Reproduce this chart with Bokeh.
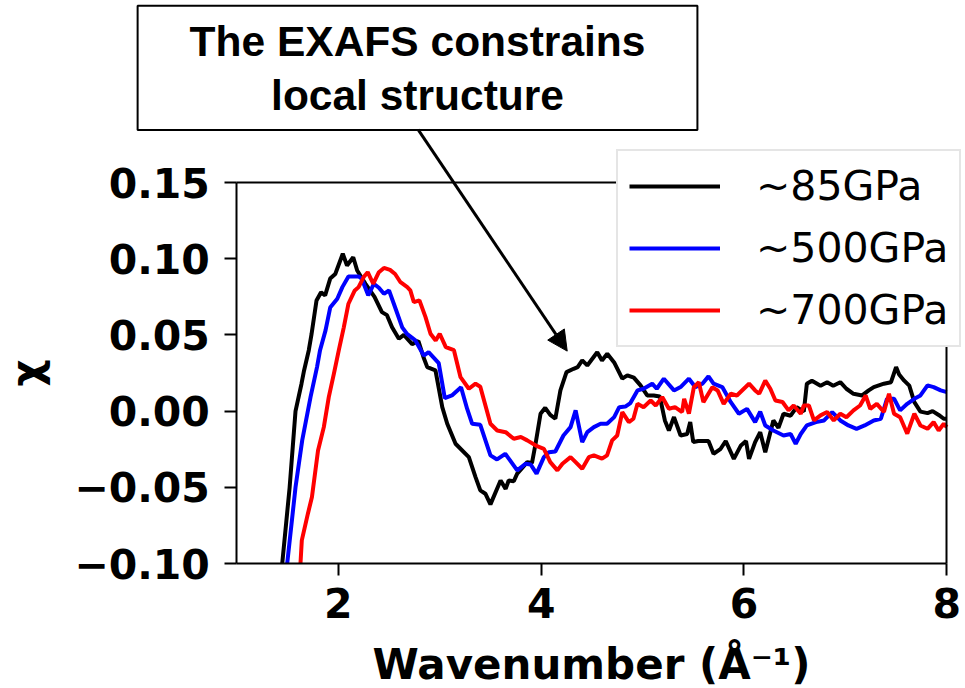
from bokeh.plotting import figure
from bokeh.models import (Legend, LegendItem, Label, Arrow, NormalHead, LinearAxis,
                          FixedTicker, CustomJSTickFormatter, Range1d)
from bokeh.embed import file_html
from bokeh.resources import INLINE

# EXAFS oscillations chi(k) at three pressures (each trace starts where it
# rises through the bottom of the axes)
k_85 = [1.447, 1.52, 1.578, 1.637, 1.66, 1.709, 1.736, 1.785, 1.83, 1.87, 1.92, 1.97,
        2.044, 2.086, 2.147, 2.186, 2.268, 2.357, 2.43, 2.48, 2.53, 2.597, 2.646, 2.728, 2.79,
        2.84, 2.877, 2.958, 3.025, 3.074, 3.156, 3.287, 3.353, 3.40, 3.45, 3.50, 3.60, 3.65,
        3.68, 3.73, 3.764, 3.863, 3.91, 3.945, 3.994, 4.04, 4.09, 4.14, 4.19, 4.25, 4.32, 4.36,
        4.405, 4.455, 4.553, 4.60, 4.652, 4.72, 4.80, 4.85, 4.914, 4.98, 5.046, 5.11, 5.17,
        5.22, 5.26, 5.31, 5.375, 5.44, 5.47, 5.50, 5.55, 5.65, 5.70, 5.77, 5.82, 5.90, 5.97,
        6.02, 6.05, 6.11, 6.16, 6.21, 6.29, 6.34, 6.39, 6.46, 6.52, 6.59, 6.62, 6.67, 6.755,
        6.82, 6.88, 6.95, 7.01, 7.08, 7.165, 7.23, 7.28, 7.38, 7.45, 7.50, 7.53, 7.58, 7.63,
        7.68, 7.74, 7.81, 7.86, 7.92, 7.97, 8.0]
chi_85 = [-0.100, -0.050, 0.000, 0.018, 0.026, 0.040, 0.0505, 0.0726, 0.078, 0.076,
          0.087, 0.090, 0.1033, 0.0956, 0.101, 0.0923, 0.0836, 0.075, 0.065, 0.063, 0.055,
          0.0475, 0.050, 0.044, 0.046, 0.0354, 0.0289, 0.0267, 0.0026, -0.0083, -0.0214,
          -0.0302, -0.0433, -0.052, -0.0542, -0.0612, -0.0455, -0.051, -0.0455, -0.046,
          -0.041, -0.0335, -0.034, -0.0214, -0.0017, 0.0022, -0.0025, -0.005, 0.0136, 0.0256,
          0.0278, 0.0289, 0.0333, 0.030, 0.0387, 0.0333, 0.0377, 0.032, 0.0213, 0.0235, 0.022,
          0.0169, 0.0103, 0.0103, 0.0096, -0.0061, -0.0127, -0.0039, -0.016, -0.015, -0.0072,
          -0.0203, -0.0196, -0.0196, -0.028, -0.0247, -0.0196, -0.0313, -0.0225, -0.0196,
          -0.0313, -0.0203, -0.0138, -0.027, -0.0061, -0.011, -0.0017, -0.003, 0.0026,
          -0.0003, 0.018, 0.020, 0.0167, 0.019, 0.0167, 0.019, 0.0147, 0.0114, 0.0103, 0.0136,
          0.0158, 0.018, 0.019, 0.0289, 0.024, 0.020, 0.0167, 0.0059, -0.0003, -0.0013, 0.0,
          -0.0025, -0.005, -0.005]

k_500 = [1.496, 1.578, 1.644, 1.726, 1.79, 1.82, 1.874, 1.92, 1.99, 2.04, 2.10, 2.20,
         2.23, 2.295, 2.35, 2.40, 2.45, 2.50, 2.565, 2.63, 2.68, 2.76, 2.843, 2.89, 2.99, 3.05,
         3.12, 3.21, 3.27, 3.32, 3.40, 3.50, 3.565, 3.646, 3.69, 3.764, 3.846, 3.896, 3.955,
         4.027, 4.076, 4.14, 4.22, 4.29, 4.34, 4.405, 4.455, 4.52, 4.586, 4.65, 4.72, 4.77,
         4.83, 4.88, 4.95, 5.01, 5.095, 5.14, 5.21, 5.31, 5.375, 5.457, 5.52, 5.59, 5.65, 5.70,
         5.786, 5.87, 5.95, 6.03, 6.11, 6.16, 6.21, 6.29, 6.39, 6.46, 6.51, 6.56, 6.62, 6.71,
         6.79, 6.87, 6.95, 7.03, 7.11, 7.19, 7.28, 7.35, 7.41, 7.48, 7.54, 7.61, 7.68, 7.74,
         7.81, 7.87, 7.94, 8.0]
chi_500 = [-0.100, -0.050, -0.0192, 0.0092, 0.0289, 0.040, 0.053, 0.068, 0.0738,
           0.0814, 0.0884, 0.0884, 0.087, 0.076, 0.0836, 0.081, 0.077, 0.0793, 0.0672, 0.055,
           0.0505, 0.0464, 0.0365, 0.0387, 0.0315, 0.0085, 0.0103, 0.0157, 0.0016, -0.0083,
           -0.009, -0.029, -0.0317, -0.028, -0.032, -0.0389, -0.0345, -0.035, -0.041, -0.0302,
           -0.027, -0.0265, -0.016, -0.0105, 0.0005, -0.0203, -0.0138, -0.0105, -0.0083,
           -0.0083, -0.0039, 0.0026, 0.003, 0.0053, 0.0136, 0.0147, 0.018, 0.0147, 0.0213,
           0.0136, 0.0158, 0.0213, 0.0158, 0.018, 0.0228, 0.018, 0.0158, 0.0059, -0.0017,
           0.0015, -0.0072, -0.0003, -0.0094, -0.0127, -0.016, -0.015, -0.0214, -0.015,
           -0.0094, -0.0072, -0.0061, -0.0006, -0.0061, -0.0094, -0.0116, -0.0094, -0.0061,
           -0.005, 0.0081, 0.0081, 0.0005, 0.0048, 0.0081, 0.0103, 0.0169, 0.0158, 0.0136,
           0.0125]

k_700 = [1.627, 1.64, 1.70, 1.74, 1.80, 1.857, 1.906, 1.956, 2.005, 2.054, 2.10, 2.16,
         2.20, 2.25, 2.29, 2.344, 2.40, 2.45, 2.51, 2.56, 2.613, 2.68, 2.71, 2.745, 2.80, 2.86,
         2.909, 2.96, 3.00, 3.06, 3.14, 3.205, 3.287, 3.353, 3.40, 3.50, 3.567, 3.65, 3.73,
         3.80, 3.863, 3.96, 4.027, 4.09, 4.16, 4.21, 4.29, 4.34, 4.405, 4.47, 4.52, 4.60, 4.65,
         4.70, 4.75, 4.80, 4.865, 4.91, 4.95, 5.01, 5.08, 5.13, 5.194, 5.26, 5.32, 5.39, 5.41,
         5.457, 5.506, 5.555, 5.60, 5.688, 5.74, 5.80, 5.87, 5.93, 6.05, 6.11, 6.15, 6.21,
         6.26, 6.31, 6.38, 6.44, 6.49, 6.56, 6.59, 6.64, 6.69, 6.755, 6.82, 6.885, 6.95, 7.01,
         7.08, 7.145, 7.20, 7.245, 7.31, 7.38, 7.43, 7.48, 7.54, 7.61, 7.68, 7.74, 7.81, 7.87,
         7.92, 7.97, 8.0]
chi_700 = [-0.100, -0.0848, -0.0673, -0.0564, -0.0258, -0.0105, 0.0092, 0.0245, 0.040,
           0.055, 0.0705, 0.079, 0.0814, 0.088, 0.0912, 0.0836, 0.0912, 0.094, 0.0927, 0.090,
           0.0846, 0.0814, 0.0793, 0.0715, 0.0727, 0.0617, 0.0508, 0.0464, 0.0508, 0.042,
           0.040, 0.0223, 0.0147, 0.018, 0.016, -0.0083, -0.0127, -0.0138, -0.0181, -0.017,
           -0.0192, -0.023, -0.0247, -0.0335, -0.0389, -0.0345, -0.0302, -0.0335, -0.0378,
           -0.0302, -0.029, -0.0312, -0.029, -0.0192, -0.016, -0.0006, -0.0072, -0.005, 0.0048,
           0.0026, 0.007, 0.0037, 0.0092, 0.0016, 0.0026, -0.0006, 0.0081, -0.0017, 0.0157,
           0.019, 0.0059, 0.0157, 0.0136, 0.0048, 0.0114, 0.0103, 0.018, 0.0136, 0.0114, 0.020,
           0.0147, 0.007, 0.006, 0.0005, 0.0037, -0.0017, 0.0037, 0.0037, -0.0061, -0.0028,
           -0.0006, -0.0061, -0.0017, -0.004, 0.0005, 0.0037, 0.0103, 0.0015, 0.0048, -0.0006,
           0.0114, -0.0017, -0.004, -0.0148, -0.0017, -0.0094, -0.0116, -0.0072, -0.0127,
           -0.0083, -0.0105]

series_labels = ["~85GPa", "~500GPa", "~700GPa"]
series_colors = ["black", "blue", "red"]
x_ticks = [2, 4, 6, 8]
y_ticks = [-0.10, -0.05, 0.00, 0.05, 0.10, 0.15]
x_lo, x_hi = 1, 8
y_lo, y_hi = -0.10, 0.15

# The drawing frame covers the whole canvas, so that the callout box, its
# arrow and the legend can sit outside the axes box; the axes box itself is
# drawn with axes pinned to its data limits.
W, H = 965, 688
box_left_px, box_right_px, box_top_px, box_bottom_px = 236.4, 946.3, 182.1, 563.0
px_per_x = (box_right_px - box_left_px) / (x_hi - x_lo)
px_per_y = (box_bottom_px - box_top_px) / (y_hi - y_lo)
x_range = Range1d(x_lo - box_left_px / px_per_x, x_hi + (W - box_right_px) / px_per_x)
y_range = Range1d(y_lo - (H - box_bottom_px) / px_per_y, y_hi + box_top_px / px_per_y)

p = figure(width=W, height=H, output_backend="svg", toolbar_location=None,
           x_range=x_range, y_range=y_range,
           min_border_left=0, min_border_right=0, min_border_top=0, min_border_bottom=0)
p.background_fill_color = "white"
p.border_fill_color = "white"
p.outline_line_color = None
p.xgrid.visible = False
p.ygrid.visible = False

renderers = []
for ks, chis, color in zip([k_85, k_500, k_700], [chi_85, chi_500, chi_700], series_colors):
    renderers.append(p.line(ks, chis, line_color=color, line_width=4))

for ax in (p.xaxis[0], p.yaxis[0]):
    ax.axis_line_width = 2
    ax.major_tick_line_width = 2
    ax.major_tick_out = 12
    ax.major_tick_in = 0
    ax.minor_tick_line_color = None
    ax.major_label_text_font = "DejaVu Sans"
    ax.major_label_text_font_style = "bold"
    ax.major_label_text_font_size = "41px"
    ax.major_label_text_color = "black"
    ax.axis_label_text_font = "DejaVu Sans"
    ax.axis_label_text_font_style = "bold"
    ax.axis_label_text_font_size = "42px"
    ax.axis_label_text_color = "black"

p.xaxis[0].ticker = FixedTicker(ticks=x_ticks)
p.xaxis[0].bounds = (x_lo, x_hi)
p.xaxis[0].fixed_location = y_lo
p.yaxis[0].ticker = FixedTicker(ticks=y_ticks)
p.yaxis[0].bounds = (y_lo, y_hi)
p.yaxis[0].fixed_location = x_lo
p.yaxis[0].formatter = CustomJSTickFormatter(
    code="return (tick < -1e-9 ? '\u2212' : '') + Math.abs(tick).toFixed(2);")
p.xaxis[0].axis_label = "Wavenumber (\u00c5\u207b\u00b9)"
p.yaxis[0].axis_label = "\u03c7"
p.xaxis[0].major_label_standoff = 12
p.xaxis[0].axis_label_standoff = 19
p.yaxis[0].major_label_standoff = 15
p.yaxis[0].axis_label_standoff = 20

# top and right edges of the axes box
top_spine = LinearAxis(fixed_location=y_hi, bounds=(x_lo, x_hi), ticker=FixedTicker(ticks=[]),
                       axis_line_width=2, major_tick_line_color=None,
                       minor_tick_line_color=None, major_label_text_color=None)
right_spine = LinearAxis(fixed_location=x_hi, bounds=(y_lo, y_hi), ticker=FixedTicker(ticks=[]),
                         axis_line_width=2, major_tick_line_color=None,
                         minor_tick_line_color=None, major_label_text_color=None)
p.add_layout(top_spine, "above")
p.add_layout(right_spine, "right")

legend = Legend(
    items=[LegendItem(label=lab, renderers=[r]) for lab, r in zip(series_labels, renderers)],
    location=(616, H - 347),
    label_text_font="DejaVu Sans",
    label_text_font_size="41px",
    label_text_color="black",
    glyph_width=91,
    glyph_height=48,
    label_height=48,
    label_standoff=36,
    spacing=14,
    padding=11,
    margin=0,
    border_line_color="#cccccc",
    border_line_width=2.5,
    background_fill_color="white",
    background_fill_alpha=1.0,
)
p.add_layout(legend)

note = Label(
    x=2.781, y=0.266, x_units="data", y_units="data",
    text="The EXAFS constrains\nlocal structure",
    text_align="center", text_baseline="top",
    text_font="Liberation Sans", text_font_style="bold", text_font_size="42.5px",
    text_color="black", text_line_height=1.15,
    border_line_color="black", border_line_width=2,
    background_fill_color="white",
    padding=dict(left=52, right=52, top=12, bottom=11),
)
p.add_layout(note)

p.add_layout(Arrow(
    x_start=2.787, y_start=0.1848, x_end=4.257, y_end=0.0394,
    line_color="black", line_width=3,
    end=NormalHead(size=20, fill_color="black", line_color="black", line_width=1),
))

open("out.html", "w").write(file_html(p, INLINE))
